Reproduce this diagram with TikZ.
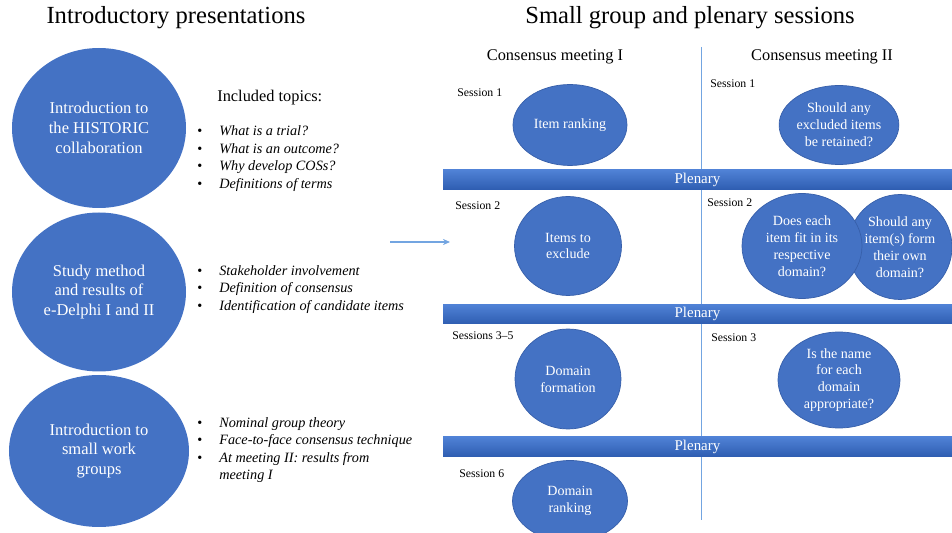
\documentclass[tikz,border=0pt]{standalone}
\usepackage{fontspec}
\setmainfont{Liberation Serif}
\usetikzlibrary{shapes.geometric,arrows.meta}
\definecolor{pptblue}{RGB}{68,114,196}
\definecolor{pptline}{RGB}{55,95,170}
\definecolor{barhi}{RGB}{80,130,214}
\definecolor{barlo}{RGB}{47,94,178}
\definecolor{rulecol}{RGB}{115,165,225}
\tikzset{bigdisc/.style={ellipse, fill=pptblue, text=white, inner sep=0pt, align=center, font=\fontsize{9.4}{11.3}\selectfont},
  disc/.style={ellipse, fill=pptblue, draw=pptline, line width=0.4pt, text=white, inner sep=0pt, align=center, font=\fontsize{8}{9.6}\selectfont},
  plenary/.style={rectangle, top color=barhi, bottom color=barlo, text=white, minimum width=10.18cm, minimum height=0.39cm, inner sep=0pt, font=\fontsize{8.5}{10}\selectfont},
  sess/.style={anchor=west, inner sep=0pt, font=\fontsize{6.7}{8}\selectfont},
  topics/.style={anchor=west, inner sep=0pt, align=left, font=\fontsize{8.1}{10}\selectfont},
  heading/.style={inner sep=0pt, font=\fontsize{14}{17}\selectfont},
  meeting/.style={inner sep=0pt, font=\fontsize{9.3}{11}\selectfont}}
\newcommand{\tpc}[1]{\makebox[12.5pt][l]{\textbullet}\textit{#1}}

\begin{document}
\begin{tikzpicture}
  \useasboundingbox (0,0) rectangle (19.04,-10.66);
  % left half
  \node[heading] (t1) at ( 3.52,-0.36) {Introductory presentations};
  \node[bigdisc, minimum width=3.48cm, minimum height=3.20cm] (i1) at ( 1.98,-2.56) {Introduction to\\the HISTORIC\\collaboration};
  \node[bigdisc, minimum width=3.48cm, minimum height=3.18cm] (i2) at ( 1.98,-5.84) {Study method\\and results of\\e-Delphi I and II};
  \node[bigdisc, minimum width=3.60cm, minimum height=3.04cm] (i3) at ( 1.98,-9.02) {Introduction to\\small work\\groups};
  \node[anchor=west, inner sep=0pt, font=\fontsize{9.3}{11}\selectfont] (inc) at ( 4.34,-1.96) {Included topics:};
  \node[topics] (l1) at ( 3.94,-3.17) {\tpc{What is a trial?}\\\tpc{What is an outcome?}\\\tpc{Why develop COSs?}\\\tpc{Definitions of terms}};
  \node[topics] (l2) at ( 3.94,-5.79) {\tpc{Stakeholder involvement}\\\tpc{Definition of consensus}\\\tpc{Identification of candidate items}};
  \node[topics] (l3) at ( 3.94,-9.00) {\tpc{Nominal group theory}\\\tpc{Face-to-face consensus technique}\\\tpc{At meeting II: results from}\\\hspace*{12.5pt}\textit{meeting I}};
  \coordinate (a0) at ( 7.80,-4.84);
  \coordinate (a1) at ( 9.00,-4.84);
  \draw[rulecol, line width=0.6pt, -{Stealth[length=4pt,width=3.5pt]}] (a0) -- (a1);
  % right half
  \node[heading] (t2) at (13.80,-0.36) {Small group and plenary sessions};
  \node[meeting] (m1) at (11.10,-1.14) {Consensus meeting I};
  \node[meeting] (m2) at (16.44,-1.14) {Consensus meeting II};
  \coordinate (v0) at (14.02,-0.94);
  \coordinate (v1) at (14.02,-10.40);
  \draw[rulecol, line width=0.5pt] (v0) -- (v1);
  \node[plenary] (p1) at (13.95,-3.59) {Plenary};
  \node[plenary] (p2) at (13.95,-6.28) {Plenary};
  \node[plenary] (p3) at (13.95,-8.93) {Plenary};
  \node[sess] (s1) at ( 9.14,-1.86) {Session 1};
  \node[sess] (s2) at ( 9.10,-4.12) {Session 2};
  \node[sess] (s3) at ( 9.04,-6.72) {Sessions 3--5};
  \node[sess] (s4) at ( 9.18,-9.48) {Session 6};
  \node[sess] (r1) at (14.20,-1.68) {Session 1};
  \node[sess] (r2) at (14.14,-4.06) {Session 2};
  \node[sess] (r3) at (14.22,-6.76) {Session 3};
  \node[disc, minimum width=2.28cm, minimum height=1.62cm] (e1) at (11.40,-2.50) {Item ranking};
  \node[disc, minimum width=2.14cm, minimum height=1.98cm] (e2) at (11.36,-4.92) {Items to\\exclude};
  \node[disc, minimum width=2.12cm, minimum height=2.00cm] (e3) at (11.36,-7.58) {Domain\\formation};
  \node[disc, minimum width=2.30cm, minimum height=1.62cm] (e4) at (11.40,-10.02) {Domain\\ranking};
  \node[disc, minimum width=2.28cm, minimum height=1.58cm] (f1) at (16.78,-2.50) {Should any\\excluded items\\be retained?};
  \node[disc, minimum width=2.08cm, minimum height=2.10cm] (f3) at (18.00,-4.94) {Should any\\item(s) form\\their own\\domain?};
  \node[disc, minimum width=2.40cm, minimum height=2.10cm] (f2) at (16.04,-4.92) {Does each\\item fit in its\\respective\\domain?};
  \node[disc, minimum width=2.44cm, minimum height=1.92cm] (f4) at (16.78,-7.60) {Is the name\\for each\\domain\\appropriate?};
\end{tikzpicture}
\end{document}
